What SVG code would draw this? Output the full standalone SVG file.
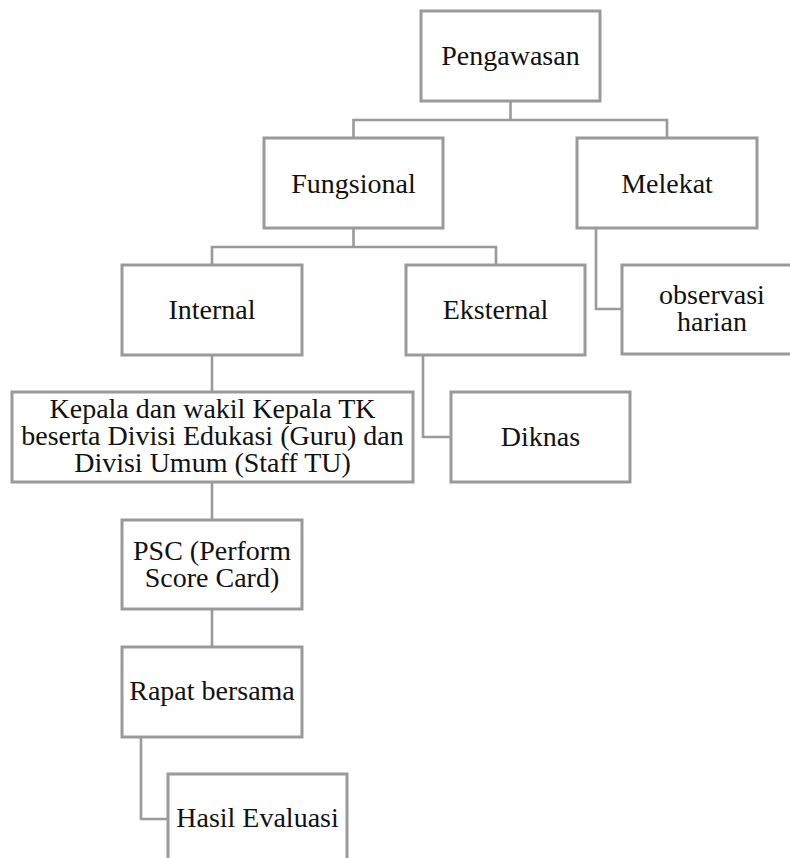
<svg xmlns="http://www.w3.org/2000/svg" width="790" height="858" viewBox="0 0 790 858">
<style>
.box{fill:#fff;stroke:#9a9a9a;stroke-width:3}
.ln{fill:none;stroke:#9a9a9a;stroke-width:2.6}
text{font-family:"Liberation Serif","Times New Roman",serif;font-size:28px;fill:#111;text-anchor:middle}
</style>
<rect width="790" height="858" fill="#fff"/>
<g id="connectors">
<path class="ln" d="M510.5,101 V120 M353.5,138 V120 H667 V138"/>
<path class="ln" d="M353.5,228 V247 M212,265 V247 H496 V265"/>
<path class="ln" d="M596,228 V309 H622"/>
<path class="ln" d="M423,355 V437 H451"/>
<path class="ln" d="M212,355 V392"/>
<path class="ln" d="M212,482 V520"/>
<path class="ln" d="M212,609 V647"/>
<path class="ln" d="M141,737 V819 H168"/>
</g>
<g id="pengawasan"><rect class="box" x="421" y="11" width="179" height="90"/><text x="510.5" y="65">Pengawasan</text></g>
<g id="fungsional"><rect class="box" x="264" y="138" width="179" height="90"/><text x="353.5" y="193">Fungsional</text></g>
<g id="melekat"><rect class="box" x="577" y="138" width="180" height="90"/><text x="667" y="193">Melekat</text></g>
<g id="internal"><rect class="box" x="122" y="265" width="180" height="90"/><text x="212" y="319">Internal</text></g>
<g id="eksternal"><rect class="box" x="406" y="265" width="179" height="90"/><text x="495.5" y="319">Eksternal</text></g>
<g id="observasi"><rect class="box" x="622" y="265" width="180" height="89"/><text x="712" y="304">observasi</text><text x="712" y="331">harian</text></g>
<g id="kepala"><rect class="box" x="12" y="392" width="401" height="90"/><text x="212.5" y="418">Kepala dan wakil Kepala TK</text><text x="212.5" y="445">beserta Divisi Edukasi (Guru) dan</text><text x="212.5" y="472">Divisi Umum (Staff TU)</text></g>
<g id="diknas"><rect class="box" x="451" y="392" width="179" height="90"/><text x="540.5" y="446">Diknas</text></g>
<g id="psc"><rect class="box" x="122" y="520" width="180" height="89"/><text x="212" y="560">PSC (Perform</text><text x="212" y="587">Score Card)</text></g>
<g id="rapat"><rect class="box" x="122" y="647" width="180" height="90"/><text x="212" y="700">Rapat bersama</text></g>
<g id="hasil"><rect class="box" x="168" y="774" width="179" height="90"/><text x="257.5" y="827">Hasil Evaluasi</text></g>
</svg>
